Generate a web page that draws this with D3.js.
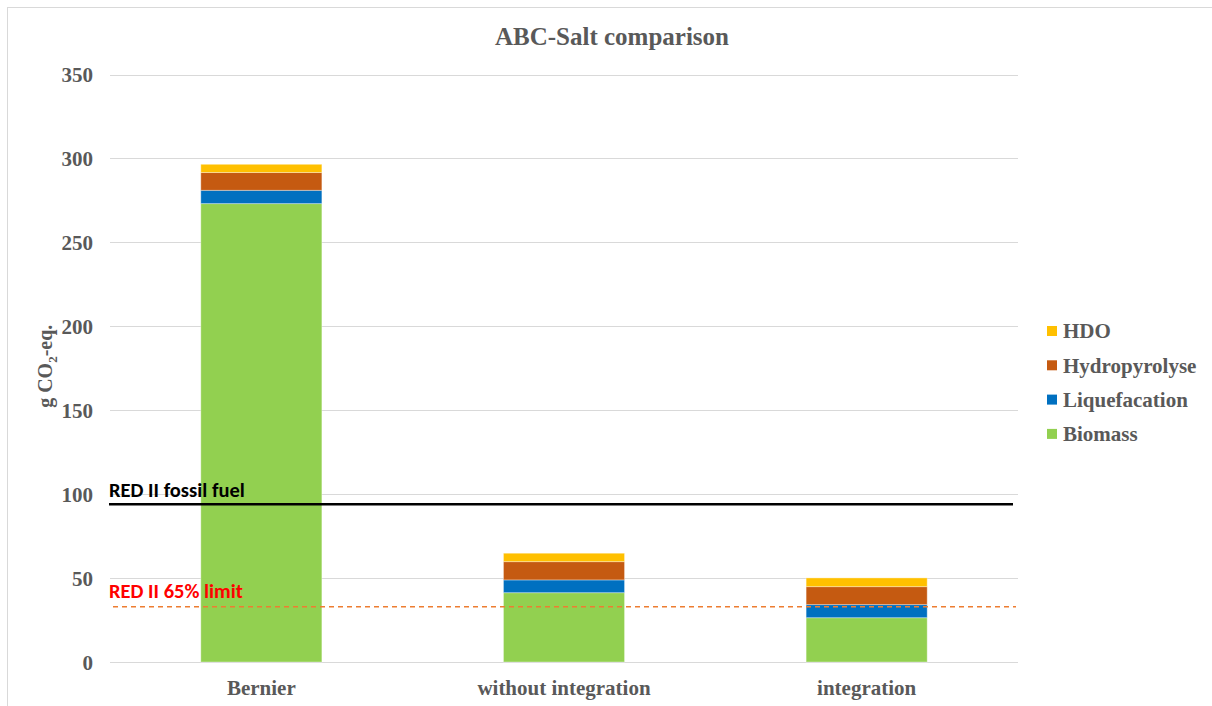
<!DOCTYPE html>
<html>
<head>
<meta charset="utf-8">
<script src="https://cdn.jsdelivr.net/npm/d3@7"></script>
<style>
  body { margin: 0; background: #fff; }
  svg { display: block; }
</style>
</head>
<body>
<svg id="chart" width="1212" height="706"></svg>
<script>
// Scenarios on the x axis
const categories = ["Bernier", "without integration", "integration"];

// Emission contributions per process step (g CO2-eq.)
const biomass       = [273.1, 41.3, 26.4];
const liquefacation = [7.9, 7.6, 7.8];
const hydropyrolyse = [10.6, 10.9, 10.7];
const hdo           = [4.9, 5.0, 5.2];

// Stacking order, bottom to top
const seriesNames  = ["Biomass", "Liquefacation", "Hydropyrolyse", "HDO"];
const seriesColors = ["#92D050", "#0070C0", "#C55A11", "#FFC000"];

// Y axis ticks
const yTicks = [0, 50, 100, 150, 200, 250, 300, 350];

// Reference levels
const fossilFuel = 94;
const limit65 = 32.9;

const svg = d3.select("#chart");
const plotLeft = 110, plotRight = 1018, plotTop = 74.5, plotBottom = 662;

const x = d3.scaleBand().domain(categories).range([plotLeft, plotRight]).paddingInner(0.6).paddingOuter(0.3);
const y = d3.scaleLinear().domain([0, 350]).range([plotBottom, plotTop]);

const serif = "'Liberation Serif', 'Times New Roman', serif";
const sans = "Carlito, 'Liberation Sans', Arial, sans-serif";
const grey = "#595959";

// Outer frame
svg.append("rect").attr("x", 7.5).attr("y", 7.5).attr("width", 1230).attr("height", 730)
  .attr("fill", "none").attr("stroke", "#d9d9d9").attr("stroke-width", 1);

// Title
svg.append("text").attr("x", 612).attr("y", 45).attr("text-anchor", "middle")
  .attr("font-family", serif).attr("font-weight", "bold").attr("font-size", 25)
  .attr("fill", grey).text("ABC-Salt comparison");

// Gridlines
svg.append("g").selectAll("line").data(yTicks).join("line")
  .attr("x1", plotLeft).attr("x2", plotRight)
  .attr("y1", d => Math.round(y(d)) + 0.5).attr("y2", d => Math.round(y(d)) + 0.5)
  .attr("stroke", "#d9d9d9").attr("stroke-width", 1);

// Y axis labels
const yAxis = d3.axisLeft(y).tickValues(yTicks).tickSize(0).tickPadding(0);
const yg = svg.append("g").attr("transform", `translate(${plotLeft - 17},0)`).call(yAxis);
yg.select(".domain").remove();
yg.selectAll("text").attr("font-family", serif).attr("font-weight", "bold")
  .attr("font-size", 21).attr("fill", grey).attr("dy", "0.35em");

// Y axis title
const yTitle = svg.append("text")
  .attr("transform", `translate(52,${(y(150)+y(200))/2 - 2}) rotate(-90)`)
  .attr("text-anchor", "middle").attr("font-family", serif).attr("font-weight", "bold")
  .attr("font-size", 20).attr("fill", grey);
yTitle.append("tspan").text("g CO");
yTitle.append("tspan").attr("font-size", 13).attr("dy", 5).text("2");
yTitle.append("tspan").attr("dy", -5).text("-eq.");

// Stacked bars
const table = categories.map((c, i) => ({
  category: c,
  Biomass: biomass[i],
  Liquefacation: liquefacation[i],
  Hydropyrolyse: hydropyrolyse[i],
  HDO: hdo[i]
}));
const stacked = d3.stack().keys(seriesNames)(table);

svg.append("g").selectAll("g").data(stacked).join("g")
  .attr("fill", (d, i) => seriesColors[i])
  .selectAll("rect").data(d => d).join("rect")
  .attr("x", d => x(d.data.category))
  .attr("width", x.bandwidth())
  .attr("y", d => y(d[1]))
  .attr("height", d => y(d[0]) - y(d[1]))
  .attr("stroke", "#ffffff").attr("stroke-opacity", 0.35).attr("stroke-width", 1);

// X axis labels
const xAxis = d3.axisBottom(x).tickSize(0).tickPadding(0);
const xg = svg.append("g").attr("transform", `translate(0,${plotBottom + 26})`).call(xAxis);
xg.select(".domain").remove();
xg.selectAll("text").attr("font-family", serif).attr("font-weight", "bold")
  .attr("font-size", 21).attr("fill", grey).attr("dy", "0.35em");

// RED II fossil fuel comparator
svg.append("line").attr("x1", 109).attr("x2", 1013)
  .attr("y1", y(fossilFuel)).attr("y2", y(fossilFuel))
  .attr("stroke", "#000").attr("stroke-width", 2.5);
svg.append("text").attr("x", 109).attr("y", y(fossilFuel) - 7)
  .attr("font-family", sans).attr("font-weight", "bold").attr("font-size", 20.5)
  .attr("fill", "#000").text("RED II fossil fuel");

// RED II 65% limit
svg.append("line").attr("x1", 113).attr("x2", 1016)
  .attr("y1", y(limit65)).attr("y2", y(limit65))
  .attr("stroke", "#ED7D31").attr("stroke-width", 1.5).attr("stroke-dasharray", "5,4");
svg.append("text").attr("x", 109).attr("y", y(limit65) - 9)
  .attr("font-family", sans).attr("font-weight", "bold").attr("font-size", 20.5)
  .attr("fill", "#FF0000").text("RED II 65% limit");

// Legend, top entry first
const legendItems = seriesNames.map((n, i) => ({ name: n, color: seriesColors[i] })).reverse();
const lg = svg.append("g").selectAll("g").data(legendItems).join("g")
  .attr("transform", (d, i) => `translate(1047,${331 + i * 34.3})`);
lg.append("rect").attr("x", 0).attr("y", -5).attr("width", 10).attr("height", 10)
  .attr("fill", d => d.color);
lg.append("text").attr("x", 16).attr("y", 0).attr("dy", "0.35em")
  .attr("font-family", serif).attr("font-weight", "bold").attr("font-size", 21)
  .attr("fill", grey).text(d => d.name);
</script>
</body>
</html>
